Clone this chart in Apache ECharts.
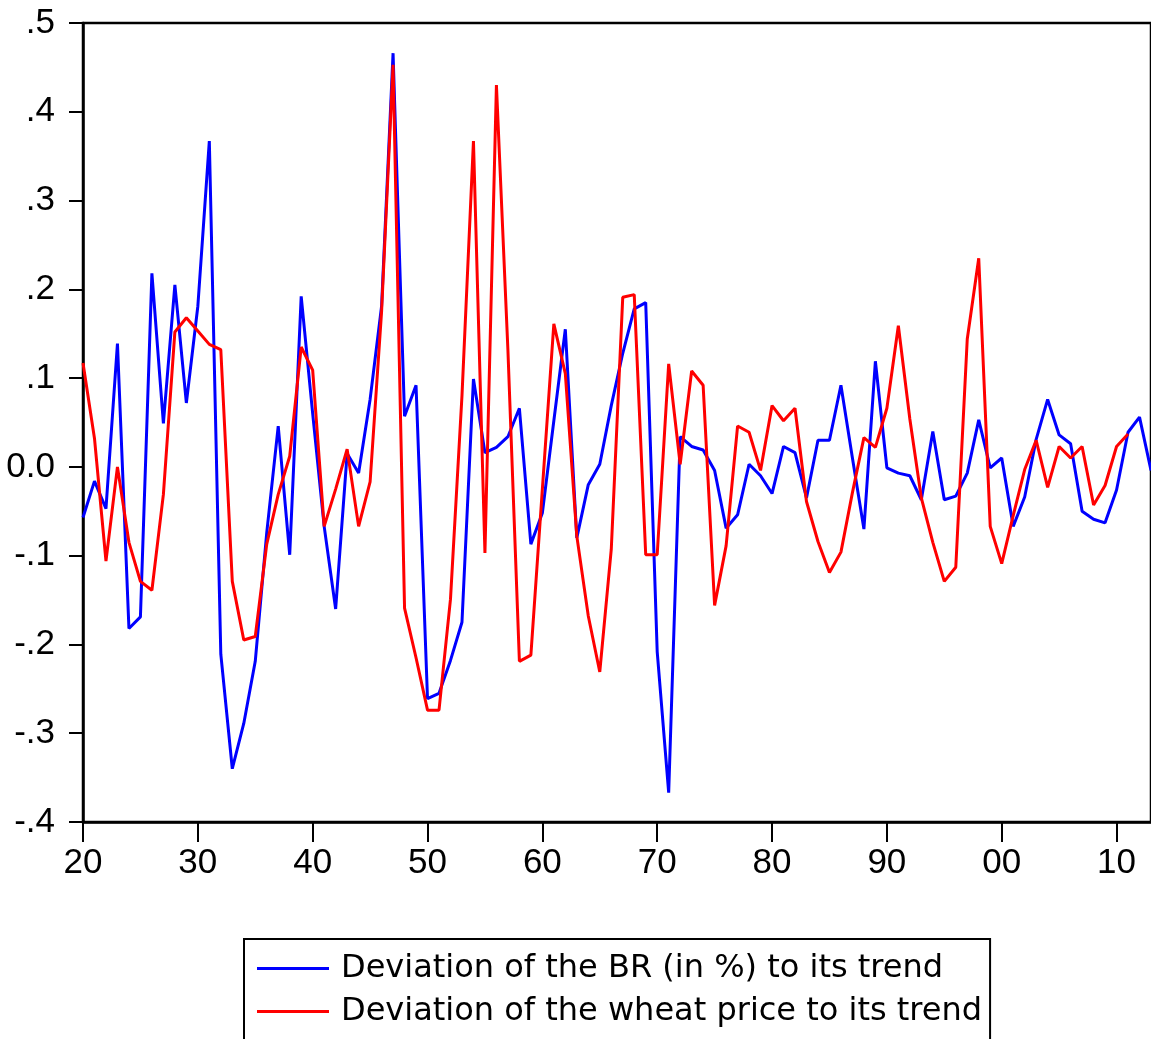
<!DOCTYPE html>
<html>
<head>
<meta charset="utf-8">
<script src="https://cdn.jsdelivr.net/npm/echarts@6/dist/echarts.min.js"></script>
<style>
html,body{margin:0;padding:0;background:#fff;}
#chart{width:1151px;height:1039px;}
</style>
</head>
<body>
<div id="chart"></div>
<script>
// Years
var startYear = 1920;
var xMin = 1920, xMax = 2013;
var yTicksMin = -0.4, yTicksMax = 0.5;

// Deviation of the BR (in %) to its trend, 1920-2013
var brDeviation = [
  -0.057, -0.016, -0.047, 0.139, -0.182, -0.169, 0.218, 0.049, 0.205, 0.072,
   0.181,  0.367, -0.211, -0.340, -0.289, -0.219, -0.074, 0.046, -0.099, 0.192,
   0.060, -0.067, -0.160, 0.015, -0.007, 0.076, 0.181, 0.466, 0.057, 0.092,
  -0.261, -0.255, -0.218, -0.175, 0.099, 0.016, 0.022, 0.034, 0.066, -0.087,
  -0.052, 0.052, 0.155, -0.080, -0.020, 0.003, 0.069, 0.128, 0.178, 0.185,
  -0.208, -0.367, 0.034, 0.023, 0.019, -0.004, -0.069, -0.054, 0.003, -0.010,
  -0.030, 0.023, 0.016, -0.035, 0.030, 0.030, 0.092, 0.010, -0.070, 0.119,
  -0.001, -0.007, -0.010, -0.037, 0.040, -0.037, -0.033, -0.007, 0.053, -0.001,
   0.010, -0.067, -0.034, 0.031, 0.076, 0.036, 0.026, -0.050, -0.059, -0.063,
  -0.026, 0.039, 0.056, -0.004
];

// Deviation of the wheat price to its trend, 1920-2011
var wheatDeviation = [
   0.117, 0.032, -0.106, 0.000, -0.085, -0.129, -0.139, -0.031, 0.152, 0.168,
   0.153, 0.138, 0.132, -0.129, -0.195, -0.191, -0.087, -0.031, 0.012, 0.135,
   0.109, -0.067, -0.025, 0.020, -0.067, -0.017, 0.175, 0.453, -0.159, -0.215,
  -0.274, -0.274, -0.149, 0.080, 0.367, -0.097, 0.430, 0.132, -0.219, -0.212,
  -0.025, 0.161, 0.105, -0.078, -0.168, -0.231, -0.093, 0.191, 0.194, -0.099,
  -0.099, 0.116, 0.003, 0.108, 0.092, -0.156, -0.089, 0.046, 0.039, -0.004,
   0.069, 0.052, 0.066, -0.039, -0.084, -0.119, -0.096, -0.029, 0.033, 0.022,
   0.066, 0.159, 0.054, -0.035, -0.085, -0.129, -0.113, 0.144, 0.235, -0.067,
  -0.109, -0.055, -0.003, 0.030, -0.023, 0.023, 0.010, 0.023, -0.043, -0.021,
   0.023, 0.037
];

var seriesNames = [
  'Deviation of the BR (in %) to its trend',
  'Deviation of the wheat price to its trend'
];

function toPairs(arr) {
  return arr.map(function (v, i) { return [startYear + i, v]; });
}

var chart = echarts.init(document.getElementById('chart'), null, {renderer: 'canvas'});
var axisFont = 'Liberation Sans, Arial, sans-serif';

chart.setOption({
  animation: false,
  backgroundColor: '#ffffff',
  grid: {
    left: 83, right: 0, top: 23, bottom: 217,
    show: true, borderColor: '#000', borderWidth: 2.5, containLabel: false
  },
  xAxis: {
    type: 'value',
    min: xMin, max: xMax, interval: 10,
    axisLine: {show: true, onZero: false, lineStyle: {color: '#000', width: 2.5}},
    axisTick: {show: true, inside: false, length: 20, lineStyle: {color: '#000', width: 2}},
    splitLine: {show: false},
    axisLabel: {
      margin: 24, color: '#000', fontSize: 35, fontFamily: axisFont,
      showMaxLabel: false,
      formatter: function (v) { var r = v % 100; return (r < 10 ? '0' : '') + r; }
    }
  },
  yAxis: {
    type: 'value',
    min: yTicksMin, max: yTicksMax, interval: 0.1,
    axisLine: {show: true, lineStyle: {color: '#000', width: 2.5}},
    axisTick: {show: true, inside: false, length: 14, lineStyle: {color: '#000', width: 2}},
    splitLine: {show: false},
    axisLabel: {
      margin: 28, color: '#000', fontSize: 35, fontFamily: axisFont,
      formatter: function (v) {
        if (Math.abs(v) < 1e-9) return '0.0';
        return v.toFixed(1).replace('0.', '.');
      }
    }
  },
  legend: {
    left: 244, top: 939,
    height: 400,
    orient: 'vertical',
    selectedMode: false,
    icon: 'rect',
    itemWidth: 72, itemHeight: 3, itemGap: 0,
    borderColor: '#000', borderWidth: 2,
    padding: [8, 8, 40, 13],
    textStyle: {
      color: '#000', fontSize: 32, fontFamily: 'DejaVu Sans, sans-serif',
      lineHeight: 43, padding: [0, 0, 0, 7]
    },
    data: seriesNames
  },
  series: [
    {
      name: seriesNames[0], type: 'line', data: toPairs(brDeviation),
      symbol: 'none', lineStyle: {color: '#0000ff', width: 3}, itemStyle: {color: '#0000ff'}
    },
    {
      name: seriesNames[1], type: 'line', data: toPairs(wheatDeviation),
      symbol: 'none', lineStyle: {color: '#ff0000', width: 3}, itemStyle: {color: '#ff0000'}
    }
  ]
});
</script>
</body>
</html>
